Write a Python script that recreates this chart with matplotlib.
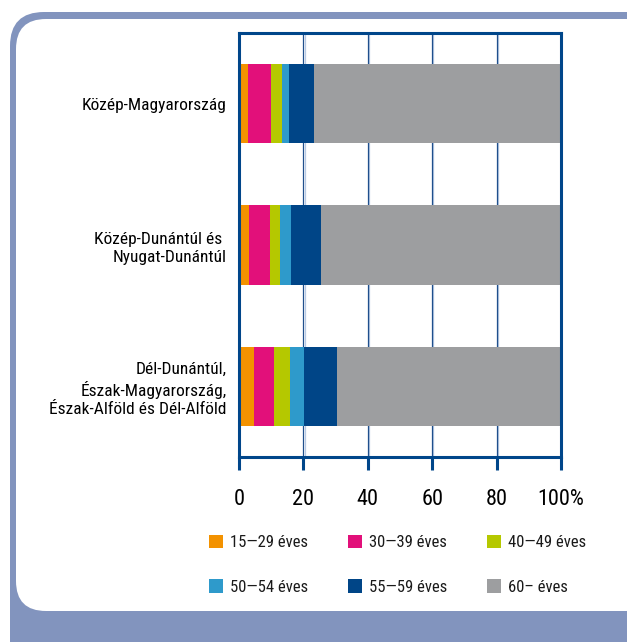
import numpy as np
import matplotlib
matplotlib.use("Agg")
import matplotlib.pyplot as plt
from matplotlib import font_manager
from matplotlib.patches import FancyBboxPatch

# --- data (%) ---
regions = ["Közép-Magyarország",
           "Közép-Dunántúl és \nNyugat-Dunántúl",
           "Dél-Dunántúl,\nÉszak-Magyarország,\nÉszak-Alföld és Dél-Alföld"]
age_groups = ["15\u201429 éves", "30\u201439 éves", "40\u201449 éves",
              "50\u201454 éves", "55\u201459 éves", "60\u2013 éves"]
share_15_29 = [2.8, 3.1, 4.7]
share_30_39 = [7.1, 6.5, 6.2]
share_40_49 = [3.5, 3.1, 4.9]
share_50_54 = [2.1, 3.4, 4.4]
share_55_59 = [7.8, 9.4, 10.2]
share_60 = [76.7, 74.5, 69.6]
x_ticks = [0, 20, 40, 60, 80, 100]
x_ticklabels = ["0", "20", "40", "60", "80", "100%"]

colors = ["#f39200", "#e2107a", "#b5c800", "#2e9acb", "#004587", "#9d9ea0"]
dark_blue = "#00468a"

# pick a narrow font if there is one
names = set(f.name for f in font_manager.fontManager.ttflist)
font = "DejaVu Sans"
for cand in ["Liberation Sans Narrow", "Roboto Condensed", "Open Sans Condensed"]:
    if cand in names:
        font = cand
        break
plt.rcParams['font.family'] = [font, "DejaVu Sans"]
plt.rcParams['text.color'] = "#1a1a1a"

W, H = 627, 642
fig = plt.figure(figsize=(W / 100, H / 100), dpi=100)

# frame: blue rounded box with white rounded box on top (pixel coords)
fig.patches.append(FancyBboxPatch((10, -40), 660, H - 12 + 40,
                                  boxstyle="round,pad=0,rounding_size=34",
                                  transform=None, fc="#8294be", ec="none", zorder=-2))
fig.patches.append(FancyBboxPatch((16, H - 611), 640, 611 - 19,
                                  boxstyle="round,pad=0,rounding_size=30",
                                  transform=None, fc="white", ec="none", zorder=-1))

ax = fig.add_axes([239 / W, 1 - 457 / H, 322 / W, 424 / H])
ax.set_facecolor("none")

series = [share_15_29, share_30_39, share_40_49, share_50_54, share_55_59, share_60]
y = np.arange(len(regions))
left = np.zeros(len(regions))
handles = []
for vals, col, lab in zip(series, colors, age_groups):
    b = ax.barh(y, vals, left=left, height=0.56, color=col, label=lab, zorder=1)
    handles.append(b)
    left += np.array(vals)

# gridlines: thin dark line with a light shadow
for xv in x_ticks[1:-1]:
    ax.axvline(xv, color="#1f4f8c", lw=0.9, zorder=0.5)
    ax.axvline(xv + 0.4, color="#b8cae4", lw=0.9, zorder=0.4)

ax.set_xlim(0, 100)
ax.set_ylim(2.5, -0.5)
ax.set_yticks(y)
ax.set_yticklabels(regions, fontsize=12.5, linespacing=1.25)
ax.tick_params(axis="y", length=0, pad=9)
ax.set_xticks(x_ticks)
ax.set_xticklabels(x_ticklabels, fontsize=16)
ax.tick_params(axis="x", length=9, width=2.2, color=dark_blue, pad=14, direction="out")
for s in ax.spines.values():
    s.set_color(dark_blue)
    s.set_linewidth(2.2)
    s.set_zorder(3)

order = [0, 3, 1, 4, 2, 5]
leg = fig.legend([handles[i] for i in order], [age_groups[i] for i in order],
                 ncol=3, frameon=False, fontsize=12,
                 loc="upper left", bbox_to_anchor=(202 / W, 1 - 528 / H),
                 handlelength=0.85, handleheight=0.85, handletextpad=0.45,
                 columnspacing=2.35, labelspacing=1.75, borderaxespad=0)

fig.savefig("out.png", dpi=100)
